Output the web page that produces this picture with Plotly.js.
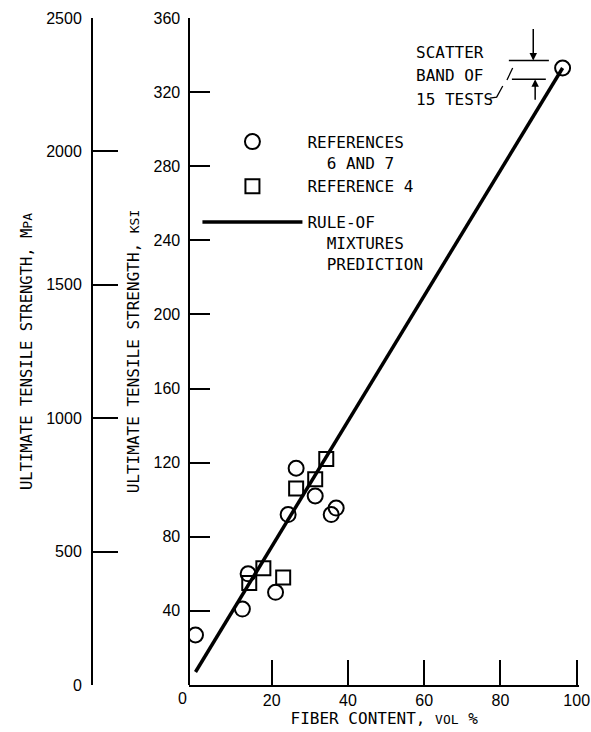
<!DOCTYPE html>
<html>
<head>
<meta charset="utf-8">
<script src="https://cdn.plot.ly/plotly-3.0.1.min.js"></script>
<style>body{margin:0;padding:0;background:#fff}#chart{width:591px;height:732px}</style>
</head>
<body>
<div id="chart"></div>
<script>
// Fiber content (vol %) and ultimate tensile strength (ksi)
var refs67X = [0, 12.3, 13.8, 21.0, 24.3, 26.4, 31.4, 35.6, 36.9, 96.3];
var refs67Y = [27, 41, 60, 50, 92, 117, 102, 92, 95.5, 333];
var ref4X = [14.1, 17.8, 23.0, 26.4, 31.4, 34.3];
var ref4Y = [55, 63, 58, 106, 111, 122];
var ruleX = [0, 96.3];
var ruleY = [7, 333];
var bandLow = 327, bandHigh = 337;
var xTicks = [20, 40, 60, 80, 100];
var ksiTicks = [40, 80, 120, 160, 200, 240, 280, 320, 360];
var mpaTicks = [0, 500, 1000, 1500, 2000, 2500];

var mono = 'DejaVu Sans Mono, Liberation Mono, monospace';
var sans = 'Liberation Sans, Arial, sans-serif';

var traces = [
  {x: refs67X, y: refs67Y, type: 'scatter', mode: 'markers', name: 'REFERENCES<br>\u00a0\u00a06 AND 7',
   legendgroup: 'pts',
   marker: {symbol: 'circle-open', size: 15, color: '#000', line: {width: 2, color: '#000'}}},
  {x: ref4X, y: ref4Y, type: 'scatter', mode: 'markers', name: 'REFERENCE 4',
   legendgroup: 'pts',
   marker: {symbol: 'square-open', size: 14, color: '#000', line: {width: 2, color: '#000'}}},
  {x: ruleX, y: ruleY, type: 'scatter', mode: 'lines', name: 'RULE-OF<br>\u00a0\u00a0MIXTURES<br>\u00a0\u00a0PREDICTION',
   legendgroup: 'rule',
   line: {color: '#000', width: 3.5}},
  {x: [null], y: [null], yaxis: 'y2', type: 'scatter', mode: 'markers', showlegend: false, hoverinfo: 'skip'}
];

var axisCommon = {
  showline: true, linecolor: '#000', linewidth: 2, ticks: 'inside', tickwidth: 2,
  tickcolor: '#000', showgrid: false, zeroline: false,
  tickfont: {family: sans, size: 16, color: '#000'}
};

var layout = {
  width: 591, height: 732,
  margin: {l: 92, r: 12, t: 18, b: 47},
  paper_bgcolor: '#fff', plot_bgcolor: '#fff',
  font: {family: mono, color: '#000'},
  showlegend: true,
  legend: {x: 0.2165, y: 0.84, xanchor: 'left', yanchor: 'top', valign: 'top',
    bgcolor: 'rgba(0,0,0,0)', itemwidth: 100, tracegroupgap: 12,
    font: {family: mono, size: 16, color: '#000'}},
  xaxis: Object.assign({}, axisCommon, {
    domain: [0.2, 1], range: [-1.6, 100.6], tickvals: xTicks, ticklen: 25,
    title: {text: 'FIBER CONTENT, <span style="font-size:13px">VOL</span> %', standoff: 4,
      font: {family: mono, size: 16, color: '#000'}}
  }),
  yaxis: Object.assign({}, axisCommon, {
    anchor: 'free', position: 0.2, range: [0, 360], tickvals: ksiTicks, ticklen: 20,
    ticklabelstandoff: 5,
    title: {text: 'ULTIMATE TENSILE STRENGTH, <span style="font-size:13px">KSI</span>', standoff: 9,
      font: {family: mono, size: 16, color: '#000'}}
  }),
  yaxis2: Object.assign({}, axisCommon, {
    overlaying: 'y', anchor: 'free', position: 0, side: 'left', range: [0, 2500],
    tickvals: mpaTicks, ticklen: 25, ticklabelstandoff: 6,
    title: {text: 'ULTIMATE TENSILE STRENGTH, M<span style="font-size:13px">PA</span>', standoff: 9,
      font: {family: mono, size: 15.5, color: '#000'}}
  }),
  shapes: [
    {type: 'line', xref: 'x', yref: 'y', x0: 82.2, x1: 92.7, y0: bandHigh, y1: bandHigh, line: {color: '#000', width: 1.5}},
    {type: 'line', xref: 'x', yref: 'y', x0: 83.0, x1: 91.9, y0: bandLow, y1: bandLow, line: {color: '#000', width: 1.5}},
    {type: 'path', xref: 'x', yref: 'y', path: 'M77.2,316.8 L79,317.3 L80.6,323.3 M81.7,326.5 L83.2,333', line: {color: '#000', width: 1.3}}
  ],
  annotations: [
    {xref: 'x', yref: 'y', x: 88.6, y: bandHigh, text: '', showarrow: true, ax: 0, ay: -33,
     arrowhead: 2, arrowsize: 1, arrowwidth: 1.5, arrowcolor: '#000'},
    {xref: 'x', yref: 'y', x: 89.1, y: bandLow, text: '', showarrow: true, ax: 0, ay: 22,
     arrowhead: 2, arrowsize: 1, arrowwidth: 1.5, arrowcolor: '#000'},
    {xref: 'x', yref: 'y', x: 57.3, y: 341.6, text: 'SCATTER', showarrow: false, xanchor: 'left', yanchor: 'middle', font: {family: mono, size: 16, color: '#000'}},
    {xref: 'x', yref: 'y', x: 57.3, y: 329.2, text: 'BAND OF', showarrow: false, xanchor: 'left', yanchor: 'middle', font: {family: mono, size: 16, color: '#000'}},
    {xref: 'x', yref: 'y', x: 57.3, y: 316.2, text: '15 TESTS', showarrow: false, xanchor: 'left', yanchor: 'middle', font: {family: mono, size: 16, color: '#000'}},
    {xref: 'paper', yref: 'paper', x: 0.185, y: -0.0195, text: '0', showarrow: false, xanchor: 'center', yanchor: 'middle', font: {family: sans, size: 16, color: '#000'}}
  ]
};

Plotly.newPlot('chart', traces, layout, {displayModeBar: false, staticPlot: true});
</script>
</body>
</html>
